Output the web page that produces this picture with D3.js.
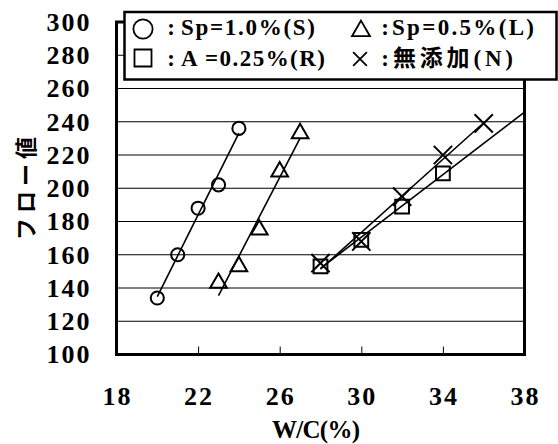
<!DOCTYPE html>
<html>
<head>
<meta charset="utf-8">
<script src="https://cdn.jsdelivr.net/npm/d3@7"></script>
<style>
  body { margin: 0; background: #fff; }
  svg { display: block; }
</style>
</head>
<body>
<div id="chart"></div>
<script>
// W/C (%) and flow values
var wcS = [20, 21, 22, 23, 24];
var flowS = [134, 160, 188, 202, 236];
var wcL = [23, 24, 25, 26, 27];
var flowL = [143, 153, 175, 210, 233];
var wcR = [28, 30, 32, 34];
var flowR = [153, 169, 189, 209];
var wcN = [28, 30, 32, 34, 36];
var flowN = [155, 168, 195, 220, 239];

// x range of each linear trend line
var trendS = [20, 24];
var trendL = [23, 27];
var trendR = [28, 38];
var trendN = [28, 36];

var xTicks = [18, 22, 26, 30, 34, 38];
var yTicks = [100, 120, 140, 160, 180, 200, 220, 240, 260, 280, 300];

var legendText = ["Sp=1.0%(S)", "Sp=0.5%(L)", "A =0.25%(R)", "無添加(N)"];

var svgWidth = 558, svgHeight = 444;
var serif = "'Liberation Serif', 'DejaVu Serif', serif";
var cjk = "'Noto Sans CJK JP', sans-serif";

var svg = d3.select("#chart").append("svg")
  .attr("width", svgWidth)
  .attr("height", svgHeight);

var xScale = d3.scaleLinear().domain([18, 38]).range([116.5, 524.5]);
var yScale = d3.scaleLinear().domain([100, 300]).range([354.5, 22]);

// gridlines
svg.append("g")
  .selectAll("line")
  .data(yTicks.slice(1, -1))
  .enter()
  .append("line")
  .attr("x1", xScale(18))
  .attr("x2", xScale(38))
  .attr("y1", d => yScale(d))
  .attr("y2", d => yScale(d))
  .attr("stroke", "#000")
  .attr("stroke-width", 1);

// inner ticks along the bottom
var xAxis = d3.axisBottom(xScale).tickValues(xTicks).tickSize(-8).tickFormat("");
var xg = svg.append("g")
  .attr("transform", `translate(0, ${yScale(100)})`)
  .call(xAxis);
xg.select(".domain").remove();
xg.selectAll("line").attr("stroke", "#000").attr("stroke-width", 1);

// y tick labels
var yAxis = d3.axisLeft(yScale).tickValues(yTicks).tickSize(0).tickPadding(25);
var yg = svg.append("g")
  .attr("transform", `translate(${xScale(18)}, 0)`)
  .call(yAxis);
yg.select(".domain").remove();
yg.selectAll("text")
  .attr("font-family", serif)
  .attr("font-size", 26)
  .attr("font-weight", "bold")
  .attr("letter-spacing", 2)
  .attr("fill", "#000");

// x tick labels
svg.append("g")
  .selectAll("text")
  .data(xTicks)
  .enter()
  .append("text")
  .attr("x", d => xScale(d) + 1)
  .attr("y", 405)
  .attr("text-anchor", "middle")
  .attr("font-family", serif)
  .attr("font-size", 26)
  .attr("font-weight", "bold")
  .attr("letter-spacing", 2)
  .text(d => d);

// trend lines (least squares)
function fit(xs, ys) {
  var mx = d3.mean(xs), my = d3.mean(ys);
  var sxy = d3.sum(xs, (x, i) => (x - mx) * (ys[i] - my));
  var sxx = d3.sum(xs, x => (x - mx) * (x - mx));
  var b = sxy / sxx;
  return x => my + b * (x - mx);
}

var series = [
  {x: wcS, y: flowS, range: trendS, type: d3.symbolCircle, size: 135, legSize: 290},
  {x: wcL, y: flowL, range: trendL, type: d3.symbolTriangle, size: 120, legSize: 140},
  {x: wcR, y: flowR, range: trendR, type: d3.symbolSquare, size: 190, legSize: 290},
  {x: wcN, y: flowN, range: trendN, type: d3.symbolX, size: 220, legSize: 125}
];

var line = d3.line().x(d => xScale(d[0])).y(d => yScale(d[1]));

series.forEach(s => {
  var f = fit(s.x, s.y);
  svg.append("path")
    .attr("d", line(s.range.map(x => [x, f(x)])))
    .attr("fill", "none")
    .attr("stroke", "#000")
    .attr("stroke-width", 1.6);
});

series.forEach(s => {
  svg.append("g")
    .selectAll("path")
    .data(s.x)
    .enter()
    .append("path")
    .attr("transform", (d, i) => `translate(${xScale(d)}, ${yScale(s.y[i])})`)
    .attr("d", d3.symbol().type(s.type).size(s.size))
    .attr("fill", "none")
    .attr("stroke", "#000")
    .attr("stroke-width", 2);
});

// plot frame
svg.append("rect")
  .attr("x", xScale(18))
  .attr("y", yScale(300))
  .attr("width", xScale(38) - xScale(18))
  .attr("height", yScale(100) - yScale(300))
  .attr("fill", "none")
  .attr("stroke", "#000")
  .attr("stroke-width", 3);

// legend
var legend = svg.append("g");
legend.append("rect")
  .attr("x", 124.5)
  .attr("y", 12)
  .attr("width", 432)
  .attr("height", 67.5)
  .attr("fill", "#fff")
  .attr("stroke", "#000")
  .attr("stroke-width", 2.5);

var symX = [143, 361, 143, 360];
var symY = [29, 31, 58, 59];
var colonX = [171, 385, 171, 385];
var labX = [181, 392, 181, 393];
var rowY = [35, 35, 66, 66];
var labLen = [134, 142, 144, 120];

legend.selectAll("path")
  .data(series)
  .enter()
  .append("path")
  .attr("transform", (d, i) => `translate(${symX[i]}, ${symY[i]})`)
  .attr("d", d => d3.symbol().type(d.type).size(d.legSize)())
  .attr("fill", "none")
  .attr("stroke", "#000")
  .attr("stroke-width", 1.8);

legend.selectAll("text.colon")
  .data(legendText)
  .enter()
  .append("text")
  .attr("class", "colon")
  .attr("x", (d, i) => colonX[i])
  .attr("y", (d, i) => rowY[i])
  .attr("text-anchor", "middle")
  .attr("font-family", serif)
  .attr("font-size", 23)
  .attr("font-weight", "bold")
  .text(":");

legend.selectAll("text.lab")
  .data(legendText)
  .enter()
  .append("text")
  .attr("class", "lab")
  .attr("x", (d, i) => labX[i])
  .attr("y", (d, i) => rowY[i])
  .attr("font-family", serif + ", " + cjk)
  .attr("font-size", 23)
  .attr("font-weight", "bold")
  .attr("textLength", (d, i) => labLen[i])
  .attr("lengthAdjust", "spacing")
  .text(d => d);

// axis titles
svg.append("text")
  .attr("x", 316)
  .attr("y", 438)
  .attr("text-anchor", "middle")
  .attr("font-family", serif)
  .attr("font-size", 25)
  .attr("font-weight", "bold")
  .attr("textLength", 88)
  .attr("lengthAdjust", "spacing")
  .text("W/C(%)");

svg.append("text")
  .attr("transform", "translate(34, 186) rotate(-90)")
  .attr("text-anchor", "middle")
  .attr("font-family", cjk)
  .attr("font-size", 22)
  .attr("font-weight", "bold")
  .attr("letter-spacing", 5)
  .text("フロー値");
</script>
</body>
</html>
